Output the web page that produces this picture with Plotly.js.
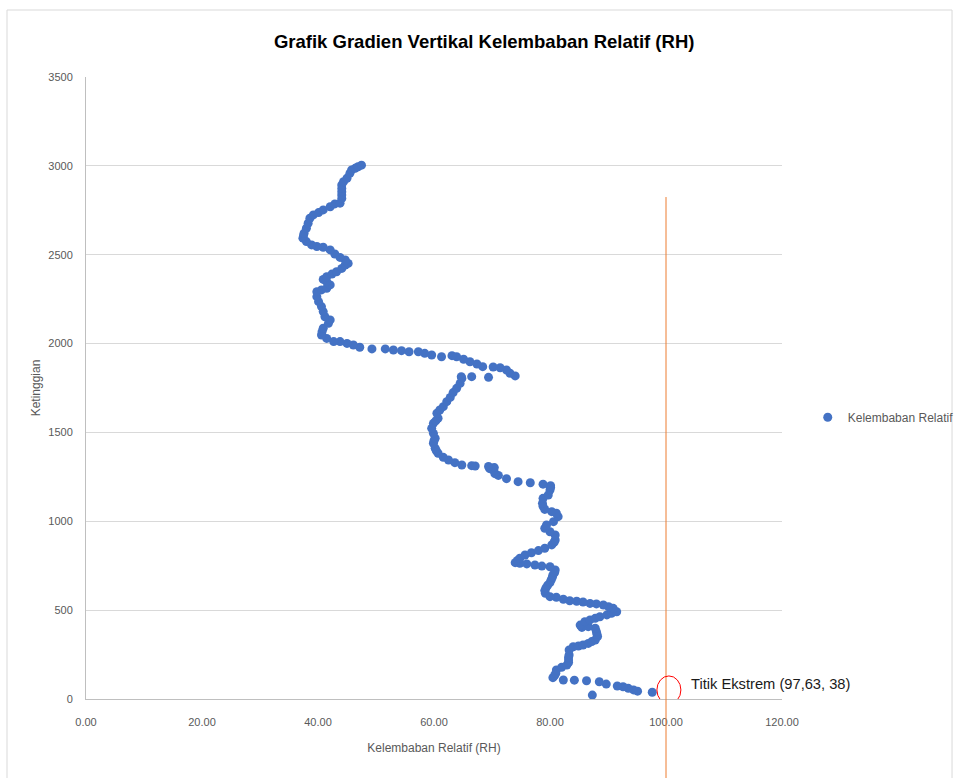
<!DOCTYPE html>
<html>
<head>
<meta charset="utf-8">
<script src="https://cdn.plot.ly/plotly-3.0.1.min.js"></script>
<style>html,body{margin:0;padding:0;background:#fff;}#chart{width:955px;height:778px;}</style>
</head>
<body>
<div id="chart"></div>
<script>
// Relative humidity (%) and height (m), bottom to top
const rhValues = [
  87.3, 97.63, 95.1, 94.4, 93.5, 92.6, 91.6, 89.7, 88.5, 86.3, 84.2, 82.3, 80.5, 80.8, 81.0, 81.1, 82.0, 82.9,
  83.2, 83.2, 83.2, 83.3, 83.3, 84.0, 84.9, 85.7, 86.6, 87.2, 87.8, 88.2, 88.1, 88.0, 87.8, 86.6, 85.5, 85.2,
  86.0, 86.9, 87.8, 88.6, 89.8, 90.6, 91.5, 90.9, 90.1, 89.2, 88.0, 86.9, 85.7, 84.6, 83.4, 82.3, 81.1, 80.0,
  79.2, 79.1, 79.3, 79.6, 80.0, 80.2, 80.4, 80.5, 80.8, 80.9, 80.0, 78.6, 77.4, 76.0, 74.8, 74.0, 74.4, 74.8,
  75.7, 76.8, 78.0, 79.1, 80.3, 80.7, 80.9, 80.9, 80.0, 79.1, 79.4, 80.6, 81.4, 81.1, 80.3, 79.1, 78.8, 78.7,
  78.8, 79.7, 80.0, 80.1, 80.1, 78.8, 76.6, 74.5, 72.5, 71.1, 70.5, 70.3, 69.6, 70.4, 69.4, 67.1, 66.5, 64.8,
  63.6, 62.5, 61.6, 60.7, 60.4, 60.2, 59.9, 60.0, 60.2, 59.9, 59.6, 59.9, 60.3, 60.7, 60.5, 61.0, 61.6, 62.2,
  62.8, 63.3, 63.9, 64.5, 64.8, 64.7, 66.5, 69.4, 74.0, 73.1, 72.5, 71.4, 70.2, 68.4, 67.4, 66.2, 65.1, 63.9,
  63.1, 61.3, 59.6, 58.4, 57.3, 55.7, 54.4, 53.0, 51.6, 49.3, 47.2, 46.1, 45.0, 43.8, 42.7, 41.5, 40.6, 40.7,
  40.9, 41.8, 42.1, 41.2, 40.9, 40.6, 40.1, 39.8, 39.8, 40.6, 41.5, 42.1, 41.5, 40.9, 41.5, 42.4, 43.2, 44.1,
  44.7, 45.2, 44.7, 43.8, 42.9, 42.1, 40.9, 39.8, 38.9, 38.0, 37.4, 37.5, 37.6, 38.0, 38.3, 38.6, 39.2, 40.1,
  40.9, 42.1, 42.9, 43.8, 44.1, 44.1, 44.1, 44.1, 44.1, 44.4, 45.0, 45.5, 45.8, 46.4, 46.9, 47.5
];
const heightValues = [
  22, 38, 44, 51, 60, 69, 73, 84, 97, 103, 106, 107, 120, 132, 145, 163, 178, 191,
  205, 219, 234, 248, 276, 294, 298, 304, 313, 323, 332, 351, 365, 379, 398, 407, 403, 416,
  435, 445, 454, 463, 473, 482, 491, 510, 519, 529, 535, 538, 546, 550, 553, 561, 572, 576,
  595, 610, 625, 640, 655, 670, 685, 698, 712, 726, 744, 748, 754, 760, 764, 767, 780, 792,
  810, 823, 835, 848, 867, 881, 895, 923, 941, 961, 979, 998, 1026, 1045, 1054, 1067, 1084, 1101,
  1129, 1148, 1176, 1190, 1200, 1209, 1217, 1223, 1240, 1258, 1268, 1285, 1296, 1302, 1308, 1311, 1313, 1317,
  1330, 1345, 1360, 1383, 1397, 1411, 1439, 1453, 1467, 1495, 1523, 1551, 1565, 1580, 1608, 1626, 1645, 1673,
  1697, 1724, 1748, 1776, 1804, 1814, 1814, 1810, 1818, 1833, 1851, 1864, 1868, 1870, 1885, 1898, 1912, 1926,
  1932, 1926, 1936, 1945, 1954, 1954, 1960, 1964, 1970, 1970, 1979, 1992, 2001, 2011, 2011, 2029, 2048, 2067,
  2086, 2114, 2133, 2151, 2180, 2208, 2236, 2264, 2292, 2302, 2311, 2330, 2348, 2361, 2376, 2391, 2404, 2423,
  2442, 2451, 2470, 2485, 2504, 2527, 2542, 2546, 2555, 2574, 2593, 2607, 2621, 2649, 2677, 2705, 2724, 2737,
  2752, 2770, 2786, 2790, 2817, 2836, 2855, 2873, 2892, 2911, 2930, 2958, 2977, 2986, 2995, 3004
];
const xTicks = [0, 20, 40, 60, 80, 100, 120];
const yTicks = [0, 500, 1000, 1500, 2000, 2500, 3000, 3500];
const seriesName = 'Kelembaban Relatif';
const extremePoint = {rh: 97.63, h: 38};
const refLineRH = 100;

const FONT = 'Liberation Sans, Arial, sans-serif';

const trace = {
  type: 'scatter',
  mode: 'markers',
  name: seriesName,
  x: rhValues,
  y: heightValues,
  marker: {color: '#4472C4', size: 9},
  showlegend: true,
  hoverinfo: 'x+y'
};

const layout = {
  width: 955,
  height: 778,
  autosize: false,
  margin: {l: 86, r: 173, t: 77, b: 79, pad: 0, autoexpand: false},
  paper_bgcolor: '#ffffff',
  plot_bgcolor: '#ffffff',
  font: {family: FONT, color: '#595959', size: 11},
  title: {
    text: '<b>Grafik Gradien Vertikal Kelembaban Relatif (RH)</b>',
    font: {family: FONT, size: 18.5, color: '#000000'},
    xref: 'container', x: 0.507, xanchor: 'center',
    yref: 'container', y: 1 - 42 / 778, yanchor: 'middle'
  },
  xaxis: {
    range: [0, 120],
    tickvals: xTicks,
    tickformat: '.2f',
    showgrid: false,
    zeroline: false,
    showline: true,
    linecolor: '#bfbfbf',
    linewidth: 1,
    ticks: '',
    ticklabelstandoff: 13,
    tickfont: {family: FONT, size: 11, color: '#595959'},
    title: {text: 'Kelembaban Relatif (RH)', font: {family: FONT, size: 12, color: '#595959'}, standoff: 16}
  },
  yaxis: {
    range: [0, 3500],
    tickvals: yTicks,
    showgrid: true,
    gridcolor: '#d9d9d9',
    gridwidth: 1,
    zeroline: false,
    showline: true,
    linecolor: '#bfbfbf',
    linewidth: 1,
    ticks: '',
    ticklabelstandoff: 10,
    tickfont: {family: FONT, size: 11, color: '#595959'},
    title: {text: 'Ketinggian', font: {family: FONT, size: 12, color: '#595959'}, standoff: 5}
  },
  showlegend: true,
  legend: {
    x: 1.037, xanchor: 'left',
    y: 0.453, yanchor: 'middle',
    font: {family: FONT, size: 12, color: '#595959'},
    bgcolor: 'rgba(0,0,0,0)'
  },
  shapes: [
    // chart frame
    {type: 'rect', xref: 'paper', yref: 'paper', x0: -0.1135, x1: 1.2443, y0: -0.2, y1: 1.1077,
     line: {color: '#d9d9d9', width: 1}, fillcolor: 'rgba(0,0,0,0)', layer: 'below'},
    // reference line at RH = 100
    {type: 'line', xref: 'x', yref: 'paper', x0: refLineRH, x1: refLineRH, y0: -0.13, y1: 0.807,
     line: {color: '#ED7D31', width: 1}},
    // circle around the extreme point
    {type: 'circle', xref: 'x', yref: 'y', xsizemode: 'pixel', ysizemode: 'pixel',
     xanchor: 100.5, yanchor: 51, x0: -12, x1: 12, y0: -14, y1: 14,
     line: {color: '#FF0000', width: 1}, fillcolor: 'rgba(0,0,0,0)'}
  ],
  annotations: [
    {xref: 'x', yref: 'y', x: 103.9, y: 86, xanchor: 'left', yanchor: 'middle', showarrow: false,
     text: 'Titik Ekstrem (' + extremePoint.rh.toFixed(2).replace('.', ',') + ', ' + extremePoint.h + ')',
     font: {family: FONT, size: 14.7, color: '#1a1a1a'}}
  ]
};

Plotly.newPlot('chart', [trace], layout, {displayModeBar: false, staticPlot: true});
</script>
</body>
</html>
